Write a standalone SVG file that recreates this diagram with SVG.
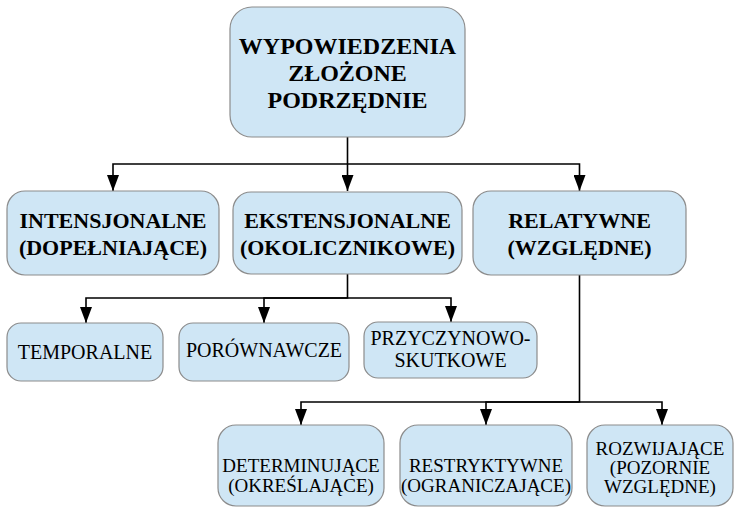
<svg xmlns="http://www.w3.org/2000/svg" width="737" height="508" viewBox="0 0 737 508">
<defs>
<marker id="arr" markerUnits="userSpaceOnUse" markerWidth="16" markerHeight="12" viewBox="0 0 16 12" refX="16" refY="6" orient="auto">
<path d="M0,0 L16,6 L0,12 Z" fill="#000"/>
</marker>
</defs>
<style>
.box{fill:#cfe6f5;stroke:#8c8c8c;stroke-width:1.2}
text{font-family:'Liberation Serif','Times New Roman','DejaVu Serif',serif;fill:#000;text-anchor:middle}
.b{font-weight:bold;font-size:22px}
.t{font-size:20px}
.s{font-size:19px}
.c{fill:none;stroke:#000;stroke-width:1.6}
</style>
<rect width="737" height="508" fill="#fff"/>
<g id="connectors">
<path class="c" d="M347.5,137 V191" marker-end="url(#arr)"/>
<path class="c" d="M347.5,164 H113 V191" marker-end="url(#arr)"/>
<path class="c" d="M347.5,164 H579.5 V191" marker-end="url(#arr)"/>
<path class="c" d="M347.5,274 V298 H86 V323" marker-end="url(#arr)"/>
<path class="c" d="M347.5,298 H264 V323" marker-end="url(#arr)"/>
<path class="c" d="M347.5,298 H451 V322" marker-end="url(#arr)"/>
<path class="c" d="M579.5,275 V402 H301 V425" marker-end="url(#arr)"/>
<path class="c" d="M579.5,402 H486 V425" marker-end="url(#arr)"/>
<path class="c" d="M579.5,402 H662 V425" marker-end="url(#arr)"/>
</g>
<g id="root">
<rect class="box" x="230" y="7" width="235" height="130" rx="22"/>
<text class="b" style="font-size:24px" x="347.5" y="54" font-family="Liberation Serif">WYPOWIEDZENIA</text>
<text class="b" style="font-size:24px" x="347.5" y="81">ZŁOŻONE</text>
<text class="b" style="font-size:24px" x="347.5" y="108">PODRZĘDNIE</text>
</g>
<g id="intensjonalne">
<rect class="box" x="7" y="191" width="212" height="84" rx="18"/>
<text class="b" x="113" y="228">INTENSJONALNE</text>
<text class="b" x="113" y="255">(DOPEŁNIAJĄCE)</text>
</g>
<g id="ekstensjonalne">
<rect class="box" x="233" y="192" width="229" height="82" rx="18"/>
<text class="b" x="347.5" y="228">EKSTENSJONALNE</text>
<text class="b" x="347.5" y="255">(OKOLICZNIKOWE)</text>
</g>
<g id="relatywne">
<rect class="box" x="473" y="191" width="213" height="84" rx="18"/>
<text class="b" x="579.5" y="228">RELATYWNE</text>
<text class="b" x="579.5" y="255">(WZGLĘDNE)</text>
</g>
<g id="temporalne">
<rect class="box" x="7" y="323" width="156" height="58" rx="14"/>
<text class="t" x="85" y="359">TEMPORALNE</text>
</g>
<g id="porownawcze">
<rect class="box" x="179" y="323" width="170" height="58" rx="14"/>
<text class="t" x="264" y="357">PORÓWNAWCZE</text>
</g>
<g id="przyczynowo">
<rect class="box" x="364" y="322" width="173" height="56" rx="14"/>
<text class="t" x="450.5" y="345">PRZYCZYNOWO-</text>
<text class="t" x="450.5" y="367">SKUTKOWE</text>
</g>
<g id="determinujace">
<rect class="box" x="218" y="425" width="166" height="81" rx="18"/>
<text class="s" x="301" y="472">DETERMINUJĄCE</text>
<text class="s" x="301" y="492">(OKREŚLAJĄCE)</text>
</g>
<g id="restryktywne">
<rect class="box" x="400" y="425" width="172" height="81" rx="18"/>
<text class="s" x="486" y="472">RESTRYKTYWNE</text>
<text class="s" x="486" y="492">(OGRANICZAJĄCE)</text>
</g>
<g id="rozwijajace">
<rect class="box" x="587" y="425" width="146" height="81" rx="18"/>
<text class="s" x="660" y="455">ROZWIJAJĄCE</text>
<text class="s" x="660" y="474">(POZORNIE</text>
<text class="s" x="660" y="493">WZGLĘDNE)</text>
</g>
</svg>
